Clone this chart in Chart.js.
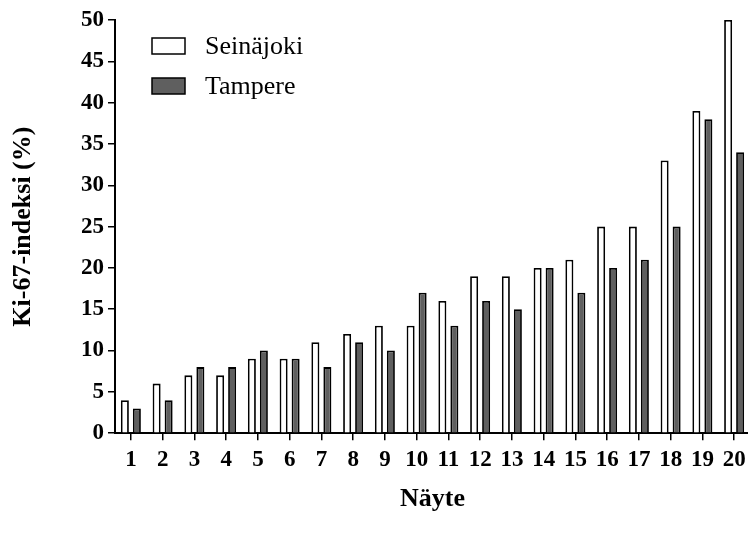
<!DOCTYPE html>
<html>
<head>
<meta charset="utf-8">
<script src="https://cdn.jsdelivr.net/npm/chart.js@4"></script>
<style>
  html, body { margin: 0; padding: 0; background: #fff; overflow: hidden; }
  #wrap { width: 752px; height: 536px; }
</style>
</head>
<body>
<div id="wrap"><canvas id="chart" width="752" height="536"></canvas></div>
<script>
// data
const samples = ["1","2","3","4","5","6","7","8","9","10","11","12","13","14","15","16","17","18","19","20"];
const seinajoki = [4, 6, 7, 7, 9, 9, 11, 12, 13, 13, 16, 19, 19, 20, 21, 25, 25, 33, 39, 50];
const tampere = [3, 4, 8, 8, 10, 9, 8, 11, 10, 17, 13, 16, 15, 20, 17, 20, 21, 25, 38, 34];
const yTicks = [0, 5, 10, 15, 20, 25, 30, 35, 40, 45, 50];

const serif = "'Liberation Serif', 'DejaVu Serif', serif";

// legend drawn inside the plot, top left
const boxLegend = {
  id: "boxLegend",
  afterDraw(chart) {
    const ctx = chart.ctx;
    const a = chart.chartArea;
    ctx.save();
    chart.data.datasets.forEach((ds, i) => {
      let x = a.left + 37;
      let y = a.top + 18 + i * 40;
      ctx.fillStyle = ds.backgroundColor;
      ctx.fillRect(x, y, 33, 16);
      ctx.lineWidth = 1.5;
      ctx.strokeStyle = "#000";
      ctx.strokeRect(x, y, 33, 16);
      ctx.fillStyle = "#000";
      ctx.font = "26px " + serif;
      ctx.textBaseline = "middle";
      ctx.fillText(ds.label, x + 53, y + 9);
    });
    ctx.restore();
  }
};

new Chart(document.getElementById("chart"), {
  type: "bar",
  data: {
    labels: samples,
    datasets: [{
      label: "Seinäjoki",
      data: seinajoki,
      backgroundColor: "#ffffff",
      borderColor: "#000000",
      borderWidth: 1.8
    }, {
      label: "Tampere",
      data: tampere,
      backgroundColor: "#5f5f5f",
      borderColor: "#000000",
      borderWidth: 1.8
    }]
  },
  options: {
    responsive: false,
    animation: false,
    categoryPercentage: 0.756,
    barPercentage: 0.667,
    layout: { padding: { left: 0, right: 2, top: 20, bottom: 21 } },
    plugins: {
      legend: { display: false },
      tooltip: { enabled: false }
    },
    scales: {
      x: {
        grid: { display: true, offset: false, drawOnChartArea: false, drawTicks: true, tickLength: 7, color: "#000", lineWidth: 1.5 },
        border: { display: true, color: "#000", width: 2 },
        ticks: { color: "#000", font: { family: serif, size: 23, weight: "bold" }, padding: 6, maxRotation: 0, autoSkip: false },
        title: { display: true, text: "Näyte", color: "#000", font: { family: serif, size: 26, weight: "bold" }, padding: { top: 4, bottom: 0 } }
      },
      y: {
        min: 0,
        max: 50,
        afterBuildTicks(scale) { scale.ticks = yTicks.map(v => ({ value: v })); },
        afterFit(scale) { scale.width = 115; },
        grid: { display: true, drawOnChartArea: false, drawTicks: true, tickLength: 7, color: "#000", lineWidth: 1.5 },
        border: { display: true, color: "#000", width: 2 },
        ticks: { color: "#000", font: { family: serif, size: 23, weight: "bold" }, padding: 4 },
        title: { display: true, text: "Ki-67-indeksi (%)", color: "#000", font: { family: serif, size: 26, weight: "bold" }, padding: { top: 8, bottom: 0 } }
      }
    }
  },
  plugins: [boxLegend]
});
</script>
</body>
</html>
